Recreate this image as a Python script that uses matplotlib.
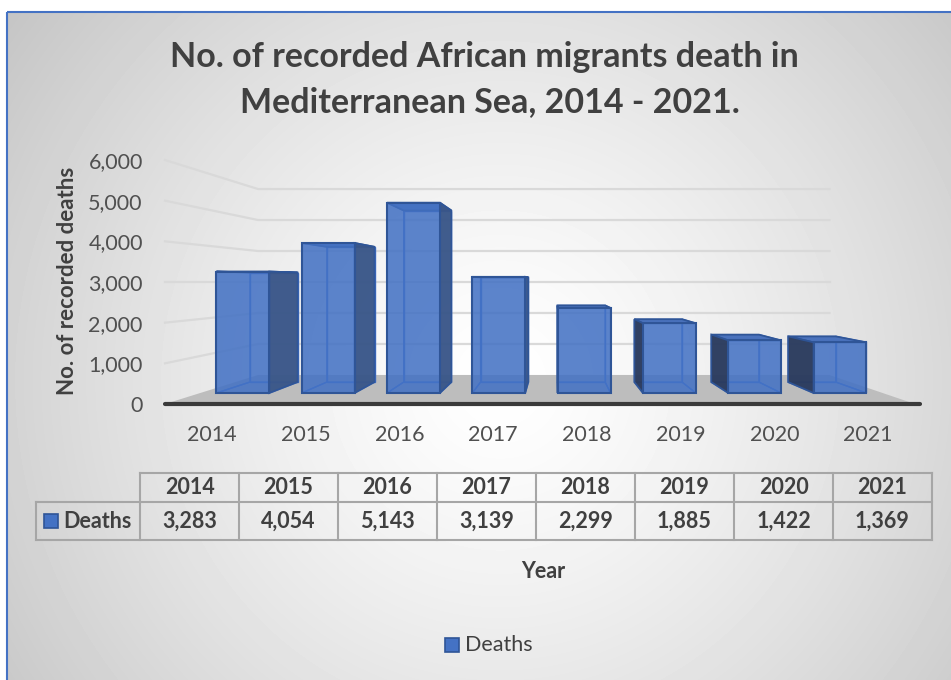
import numpy as np
import matplotlib
matplotlib.use("Agg")
import matplotlib.pyplot as plt
from matplotlib.patches import Polygon, Rectangle

plt.rcParams["font.family"] = ["Lato", "DejaVu Sans"]

years = ["2014", "2015", "2016", "2017", "2018", "2019", "2020", "2021"]
deaths = [3283, 4054, 5143, 3139, 2299, 1885, 1422, 1369]
y_ticks = [0, 1000, 2000, 3000, 4000, 5000, 6000]
title_lines = ["No. of recorded African migrants death in",
               "Mediterranean Sea, 2014 - 2021."]
series_name = "Deaths"

W, H = 951, 680
TXT = "#404040"
BLUE = "#4472C4"

# perspective settings (category units / value units)
vp_x, vp_y = 4.17, 3000      # vanishing point
s_wall = 0.762               # back wall scale
s_front, s_back = 0.91, 0.82  # bar front / back faces
half_w = 0.31


def proj(x, y, s):
    return (vp_x + (x - vp_x) * s, vp_y + (y - vp_y) * s)


fig = plt.figure(figsize=(W / 100, H / 100), dpi=100)
fig.patch.set_facecolor("white")

# background with radial gradient
bg = fig.add_axes([0, 0, 1, 1], zorder=0)
bg.set_xlim(0, W)
bg.set_ylim(H, 0)
bg.axis("off")
xx, yy = np.meshgrid(np.arange(7, W), np.arange(12, H))
dist = np.hypot(xx - 500, yy - 380)
gray = np.clip(255 - 0.0138 * dist ** 1.3, 185, 255) / 255
bg.imshow(gray, cmap="gray", vmin=0, vmax=1, extent=[7, W, H, 12],
          aspect="auto", interpolation="bilinear")
bg.add_patch(Rectangle((7, 12), W, H, fill=False, edgecolor=BLUE, lw=1.5))

# title
bg.text(484, 57, title_lines[0], ha="center", va="center", fontsize=24.5,
        fontweight="bold", color=TXT)
bg.text(490, 102, title_lines[1], ha="center", va="center", fontsize=24.5,
        fontweight="bold", color=TXT)
bg.text(68, 281, "No. of recorded deaths", rotation=90, ha="center",
        va="center", fontsize=16, fontweight="bold", color=TXT)

# main chart
ax = fig.add_axes([165 / W, 1 - 404 / H, 750 / W, 244 / H], zorder=1)
ax.patch.set_alpha(0)
n = len(years)
ax.set_xlim(0, n)
ax.set_ylim(0, 6000)
for sp in ax.spines.values():
    sp.set_visible(False)
ax.set_yticks(y_ticks)
ax.set_yticklabels([f"{v:,}" for v in y_ticks])
ax.set_xticks(np.arange(n) + 0.5)
ax.set_xticklabels(years)
ax.tick_params(length=0, labelsize=15.5, labelcolor="#505050")
ax.tick_params(axis="y", pad=16)
ax.tick_params(axis="x", pad=15)

# floor
floor = [proj(0, 0, 1), proj(n, 0, 1), proj(n, 0, s_wall), proj(0, 0, s_wall)]
ax.add_patch(Polygon(floor, closed=True, facecolor="#BDBDBD",
                     edgecolor="none", zorder=1, clip_on=False))
ax.plot([0, n + 0.05], [0, 0], color="#3A3A3A", lw=3, zorder=2,
        clip_on=False, solid_capstyle="round")

# side and back wall gridlines
for v in y_ticks[1:]:
    pts = [proj(0, v, 1), proj(0, v, s_wall), proj(n, v, s_wall)]
    ax.plot([p[0] for p in pts], [p[1] for p in pts], color="#D9D9D9",
            lw=1.6, zorder=1, clip_on=False)

# bars as translucent boxes
for i, v in enumerate(deaths):
    c = i + 0.5
    x0, x1 = c - half_w, c + half_w

    def face(xa, ya, sa, xb, yb, sb, xc, yc, sc, xd, yd, sd):
        return [proj(xa, ya, sa), proj(xb, yb, sb),
                proj(xc, yc, sc), proj(xd, yd, sd)]

    back = face(x0, 0, s_back, x1, 0, s_back, x1, v, s_back, x0, v, s_back)
    front = face(x0, 0, s_front, x1, 0, s_front, x1, v, s_front,
                 x0, v, s_front)
    top = face(x0, v, s_front, x1, v, s_front, x1, v, s_back, x0, v, s_back)
    bottom = face(x0, 0, s_front, x1, 0, s_front, x1, 0, s_back,
                  x0, 0, s_back)
    if c < vp_x:
        side = face(x1, 0, s_front, x1, 0, s_back, x1, v, s_back,
                    x1, v, s_front)
        hidden = face(x0, 0, s_front, x0, 0, s_back, x0, v, s_back,
                      x0, v, s_front)
        side_col = "#3A5688"
    else:
        side = face(x0, 0, s_front, x0, 0, s_back, x0, v, s_back,
                    x0, v, s_front)
        hidden = face(x1, 0, s_front, x1, 0, s_back, x1, v, s_back,
                      x1, v, s_front)
        side_col = "#2A3A5C"

    for poly in (back, bottom, hidden):
        ax.add_patch(Polygon(poly, closed=True, facecolor=BLUE, alpha=0.35,
                             edgecolor="none", zorder=3, clip_on=False))
        ax.add_patch(Polygon(poly, closed=True, fill=False,
                             edgecolor="#3F6FCB", lw=1.0, zorder=3,
                             clip_on=False))
    ax.add_patch(Polygon(top, closed=True, facecolor="#4A72BC",
                         edgecolor="#2F5597", lw=1.3, zorder=4,
                         clip_on=False))
    ax.add_patch(Polygon(side, closed=True, facecolor=side_col,
                         edgecolor="#2F5597", lw=1.3, zorder=5, alpha=0.95,
                         clip_on=False))
    ax.add_patch(Polygon(front, closed=True, facecolor=BLUE, alpha=0.8,
                         edgecolor="none", zorder=6, clip_on=False))
    ax.add_patch(Polygon(front, closed=True, fill=False,
                         edgecolor="#2F5597", lw=1.5, zorder=7,
                         clip_on=False))

# data table
line_kw = dict(color="#A6A6A6", lw=1.5, zorder=2)
tx0, col_w = 140, 99
tx1 = tx0 + col_w * n
r0, r1, r2 = 473, 502, 540
bg.plot([tx0, tx1], [r0, r0], **line_kw)
bg.plot([36, tx1], [r1, r1], **line_kw)
bg.plot([36, tx1], [r2, r2], **line_kw)
bg.plot([36, 36], [r1, r2], **line_kw)
for k in range(n + 1):
    xk = tx0 + k * col_w
    bg.plot([xk, xk], [r0, r2], **line_kw)
for k, (yr, v) in enumerate(zip(years, deaths)):
    xc = tx0 + (k + 0.5) * col_w
    bg.text(xc, (r0 + r1) / 2, yr, ha="center", va="center", fontsize=15.5,
            fontweight="bold", color=TXT)
    bg.text(xc, (r1 + r2) / 2, f"{v:,}", ha="center", va="center",
            fontsize=15.5, fontweight="bold", color=TXT)
bg.add_patch(Rectangle((44, 514), 14, 14, facecolor=BLUE, edgecolor="#2F5597",
                       lw=1.2, zorder=3))
bg.text(63, (r1 + r2) / 2, series_name, ha="left", va="center",
        fontsize=15.5, fontweight="bold", color=TXT)

bg.text(543, 572, "Year", ha="center", va="center", fontsize=15.5,
        fontweight="bold", color=TXT)

# legend
bg.add_patch(Rectangle((445, 638), 14, 14, facecolor=BLUE, edgecolor="#2F5597",
                       lw=1.2, zorder=3))
bg.text(465, 645, series_name, ha="left", va="center", fontsize=15.5,
        color=TXT)

fig.savefig("out.png", dpi=100)
